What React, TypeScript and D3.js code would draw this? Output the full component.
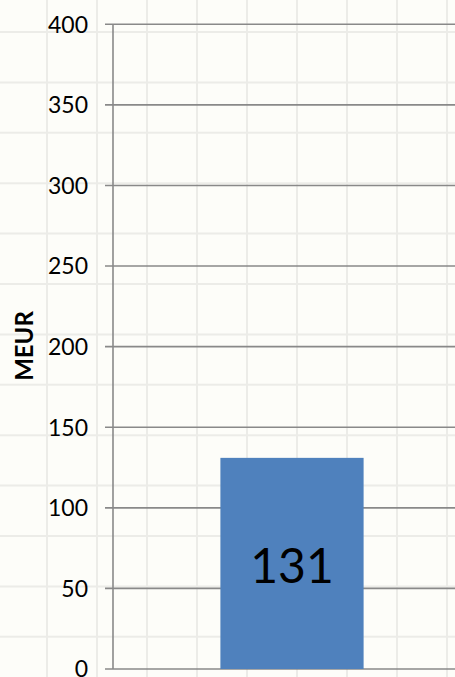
import React from "react";
import * as d3 from "d3";

const categories: string[] = ["Total"];
const values: number[] = [131];
const yTicks: number[] = [0, 50, 100, 150, 200, 250, 300, 350, 400];
const yAxisTitle = "MEUR";

const W = 455;
const H = 677;

export default function App() {
  const y = d3.scaleLinear().domain([0, 400]).range([669, 24.3]);
  const x = d3
    .scaleBand<string>()
    .domain(categories)
    .range([113, 471])
    .paddingInner(0.6)
    .paddingOuter(0.3);

  const bgV = d3.range(47, W, 50);
  const bgH = d3.range(0, 13).map((i) => 32 + i * 50.4);
  const font = "Lato, 'Open Sans', Calibri, sans-serif";

  return (
    <svg
      width={W}
      height={H}
      style={{ position: "fixed", left: 0, top: 0, background: "#fdfdf9" }}
    >
      <rect x={0} y={0} width={W} height={H} fill="#fdfdf9" />
      {bgV.map((v) => (
        <line key={"v" + v} x1={v} x2={v} y1={0} y2={H} stroke="#ececE8" strokeWidth={2} />
      ))}
      {bgH.map((h) => (
        <line key={"h" + h} x1={0} x2={W} y1={h} y2={h} stroke="#ececE8" strokeWidth={2} />
      ))}
      {yTicks.map((t) => (
        <g key={t}>
          <line x1={105} x2={W} y1={y(t)} y2={y(t)} stroke="#898989" strokeWidth={1.6} />
          <text
            x={88}
            y={y(t)}
            dy="0.36em"
            textAnchor="end"
            fontFamily={font}
            fontSize={23}
            fill="#000"
          >
            {t}
          </text>
        </g>
      ))}
      <line x1={113} x2={113} y1={y(400)} y2={y(0)} stroke="#898989" strokeWidth={1.6} />
      {categories.map((c, i) => (
        <g key={c}>
          <rect
            x={x(c)}
            y={y(values[i])}
            width={x.bandwidth()}
            height={y(0) - y(values[i])}
            fill="#4f81bd"
          />
          <text
            x={(x(c) as number) + x.bandwidth() / 2}
            y={583}
            textAnchor="middle"
            fontFamily={font}
            fontSize={48}
            fill="#000"
          >
            {values[i]}
          </text>
        </g>
      ))}
      <text
        transform={`translate(33,346) rotate(-90)`}
        textAnchor="middle"
        fontFamily={font}
        fontWeight="bold"
        fontSize={24}
        fill="#000"
      >
        {yAxisTitle}
      </text>
    </svg>
  );
}
